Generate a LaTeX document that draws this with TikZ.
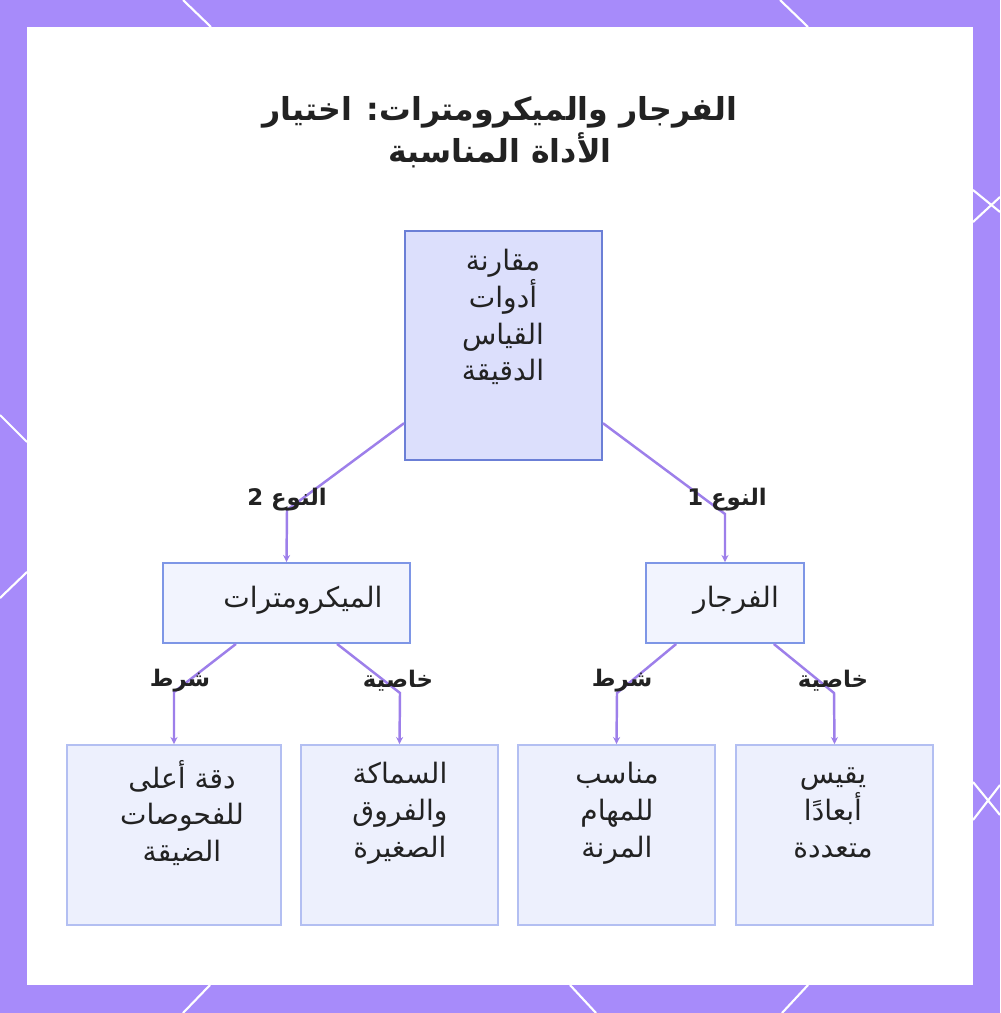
\documentclass[tikz,border=0pt]{standalone}
\usepackage{fontspec}
\setmainfont{DejaVu Sans}
\newfontfamily\arabicfont[Script=Arabic]{DejaVu Sans}
\TeXXeTstate=1
\usetikzlibrary{arrows.meta,positioning}
\definecolor{framec}{HTML}{A78BFA}
\definecolor{edgec}{HTML}{9D7FEA}
\definecolor{rootfill}{HTML}{DCDFFC}
\definecolor{rootline}{HTML}{6B7FD6}
\definecolor{midfill}{HTML}{F2F4FE}
\definecolor{midline}{HTML}{7E96E6}
\definecolor{leaffill}{HTML}{EDF0FD}
\definecolor{leafline}{HTML}{B3BFF2}
\definecolor{ink}{HTML}{222222}
\newcommand{\artxt}[1]{\beginR #1\endR}

\begin{document}
\begin{tikzpicture}[x=0.02cm, y=-0.02cm, every node/.style={text=ink}]
\tikzset{rootbox/.style={draw=rootline, fill=rootfill, line width=1.1pt, minimum width=3.94cm, minimum height=4.58cm}}
\tikzset{midbox/.style={draw=midline, fill=midfill, line width=1.1pt, minimum height=1.6cm}}
\tikzset{leafbox/.style={draw=leafline, fill=leaffill, line width=1.1pt, minimum width=3.94cm, minimum height=3.6cm}}
\tikzset{boxtxt/.style={align=center, inner sep=0pt, font=\arabicfont\fontsize{16}{21}\selectfont}}
\tikzset{elbl/.style={inner sep=0pt, font=\arabicfont\bfseries\fontsize{13}{15}\selectfont}}
\tikzset{edge/.style={draw=edgec, line width=1.4pt, -{Stealth[length=4pt, width=4pt]}}}
\tikzset{deco/.style={white, line width=1.2pt}}

\useasboundingbox (0,0) rectangle (1000,1013);
% frame
\fill[framec] (0,0) rectangle (1000,1013);
\draw[deco] (183,0) -- (211,27);
\draw[deco] (780,0) -- (808,27);
\draw[deco] (973,190) -- (1000,212);
\draw[deco] (973,222) -- (1000,197);
\draw[deco] (973,782) -- (1000,815);
\draw[deco] (973,820) -- (1000,785);
\draw[deco] (0,415) -- (27,442);
\draw[deco] (27,572) -- (0,598);
\draw[deco] (210,985) -- (183,1013);
\draw[deco] (570,985) -- (596,1013);
\draw[deco] (808,985) -- (782,1013);
\fill[white] (27,27) rectangle (973,985);

% title
\node[align=center, font=\arabicfont\bfseries\fontsize{18}{24}\selectfont] (ttl) at (500,132)
  {\artxt{الفرجار والميكرومترات: اختيار}\\\artxt{الأداة المناسبة}};

% boxes
\node[rootbox] (top) at (503.5,345.5) {};
\node[midbox, minimum width=4.94cm] (ml) at (286.5,603) {};
\node[midbox, minimum width=3.16cm] (mr) at (725,603) {};
\node[leafbox, minimum width=4.28cm] (b1) at (174,835) {};
\node[leafbox] (b2) at (399.5,835) {};
\node[leafbox] (b3) at (616.5,835) {};
\node[leafbox] (b4) at (834.5,835) {};

% texts
\node[boxtxt] (top-t) at (503,317) {\artxt{مقارنة}\\\artxt{أدوات}\\\artxt{القياس}\\\artxt{الدقيقة}};
\node[boxtxt] (ml-t) at (303,600) {\artxt{الميكرومترات}};
\node[boxtxt] (mr-t) at (736,600) {\artxt{الفرجار}};
\node[boxtxt] (b1-t) at (182,813) {\artxt{دقة أعلى}\\\artxt{للفحوصات}\\\artxt{الضيقة}};
\node[boxtxt] (b2-t) at (400,813) {\artxt{السماكة}\\\artxt{والفروق}\\\artxt{الصغيرة}};
\node[boxtxt] (b3-t) at (617,813) {\artxt{مناسب}\\\artxt{للمهام}\\\artxt{المرنة}};
\node[boxtxt] (b4-t) at (833,813) {\artxt{يقيس}\\\artxt{أبعادًا}\\\artxt{متعددة}};

% bends
\coordinate (k2) at (287,510);
\coordinate (k1) at (725,514);
\coordinate (c1) at (174,692);
\coordinate (c2) at (400,693);
\coordinate (c3) at (617,693);
\coordinate (c4) at (834,693);

% connectors
\draw[edge] (top.218) -- (k2) -- (ml.north);
\draw[edge] (top.322) -- (k1) -- (mr.north);
\draw[edge] (ml.219) -- (c1) -- (b1.north);
\draw[edge] (ml.321) -- (c2) -- (b2.north);
\draw[edge] (mr.220) -- (c3) -- (b3.north);
\draw[edge] (mr.320) -- (c4) -- (b4.north);

% edge labels
\node[elbl] (n2) at (287,500) {\artxt{النوع 2}};
\node[elbl] (n1) at (727,500) {\artxt{النوع 1}};
\node[elbl] (s1) at (180,681) {\artxt{شرط}};
\node[elbl] (p1) at (398,681) {\artxt{خاصية}};
\node[elbl] (s2) at (622,681) {\artxt{شرط}};
\node[elbl] (p2) at (833,681) {\artxt{خاصية}};
\end{tikzpicture}
\end{document}
